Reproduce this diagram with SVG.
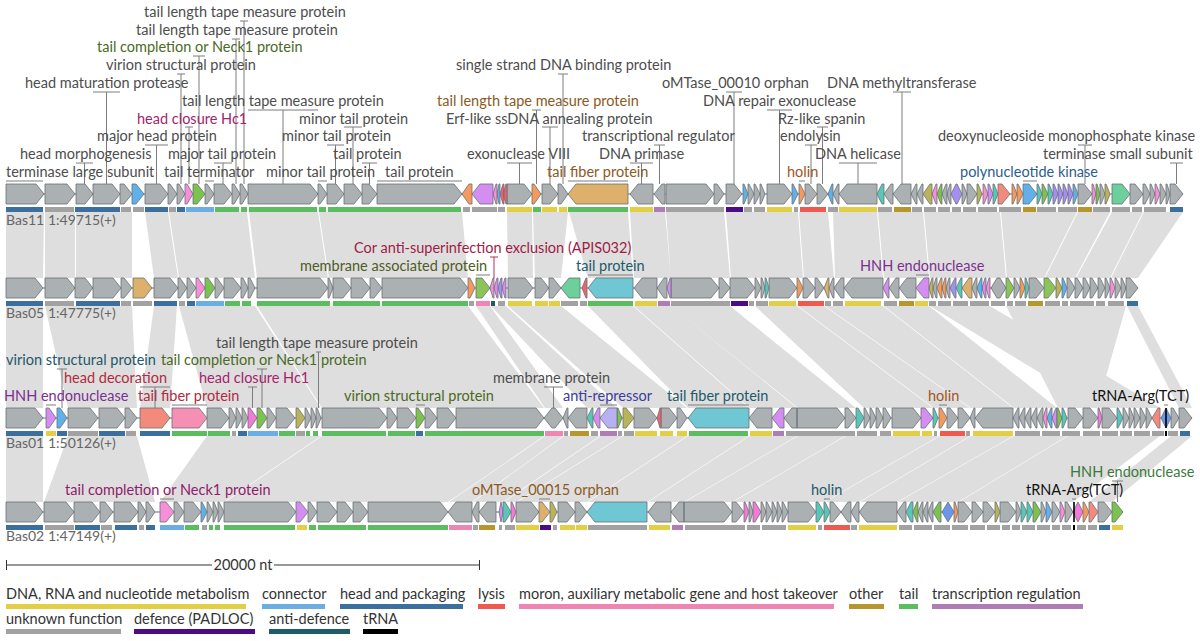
<svg xmlns="http://www.w3.org/2000/svg" width="1200" height="641" viewBox="0 0 1200 641">
<style>
text{font-family:Lato,"Liberation Sans",sans-serif;font-size:14.5px;fill:#4d4d4d}
.band{fill:#dedede;stroke:none}
.bb{stroke:#6b7073;stroke-width:1;fill:none}
.gn path{stroke:#6b7073;stroke-width:0.8;stroke-linejoin:miter}
.f-g{fill:#abb0b3}.f-bl{fill:#62b0ea}.f-pk{fill:#f58fd8}.f-gr{fill:#7cc24e}.f-or{fill:#f59a5c}.f-pu{fill:#d48ef2}.f-rd{fill:#f2606e}.f-tn{fill:#ddb06c}.f-tl{fill:#58c6b8}.f-ol{fill:#b9b45a}.f-vi{fill:#a68ef2}.f-sa{fill:#f48a7c}.f-cy{fill:#6ec7d2}.f-lg{fill:#8dc45a}.f-mg{fill:#f37ad6}.f-pp{fill:#f58fb3}.f-tq{fill:#6ccf9c}.f-db{fill:#6a96ee}.f-lv{fill:#b9b0f4}
.bars path{fill:none;stroke-width:5}
.c-dna{stroke:#e3cf45}.c-cn{stroke:#6aaee2}.c-hp{stroke:#3b6f9d}.c-ly{stroke:#ef5a50}.c-mo{stroke:#ee85b5}.c-ot{stroke:#b8962e}.c-tl{stroke:#5bbd60}.c-tr{stroke:#b07cb6}.c-un{stroke:#a2a2a2}.c-df{stroke:#4b0c86}.c-ad{stroke:#1d5c68}.c-rna{stroke:#000}
.ln{stroke:#7c7c7c;stroke-width:1;fill:none}
text.tn{fill:#666;font-size:14px}
.t-ol{fill:#4a6a1f}.t-mg{fill:#a3246b}.t-br{fill:#8b5a24}.t-ho{fill:#a3541e}.t-bu{fill:#2d5d8b}.t-cr{fill:#9e1c48}.t-om{fill:#4e5c1f}.t-tl{fill:#22596a}.t-pu{fill:#7d2f91}.t-rd{fill:#b12a3d}.t-in{fill:#3c3c9c}.t-pm{fill:#8e1c6b}.t-gn{fill:#3b7a3b}.t-bk{fill:#111}
.leg text{fill:#333}
.leg path{stroke-width:5;fill:none}
</style>

<g id="similarity-bands">
<path class="band" d="M6,212H44L43,278H6Z M45,212H75L75,278H45Z M76,212H132L132,278H76Z M145,212H168L178,278H154Z M169,212H247L255,278H179Z M249,212H318L328,278H257Z M319,212H462L468,278H329Z M507,212H532L533,278H508Z M533,212H568L561,278H535Z M569,212H628L633,278H588Z M630,212H665L671,278H634Z M666,212H724L730,278H671Z M726,212H798L803,278H731Z M799,212H828L834,278H804Z M833,212H877L883,278H835Z M878,212H923L929,278H884Z M924,212H1000L1006,278H930Z M1001,212H1077L1044,278H1007Z M1078,212H1110L1075,278H1045Z M1112,212H1143L1110,278H1076Z M1144,212H1183L1138,278H1111Z"/>
<path class="band" d="M6,306H43L43,408H6Z M45,306H132L137,408H68Z M154,306H177L170,408H140Z M179,306H255L321,408H207Z M257,306H468L544,408H322Z M476,306H490L563,408H545Z M491,306H506L617,408H587Z M508,306H561L687,408H623Z M588,306H633L749,408H688Z M634,306H671L797,408H750Z M671,306H730L856,408H798Z M755,306H797L933,408H864Z M798,306H824L970,408H934Z M825,306H883L1013,408H971Z M884,306H929L1057,408H1014Z M930,306H990L1160,408H1098Z M1006,306H1126L1097,408H1058Z M1127,306H1138L1192,408H1179Z"/>
<path class="band" d="M6,436H43L43,502H6Z M68,436H137L155,502H44Z M207,436H321L224,502H160Z M322,436H544L448,502H225Z M545,436H563L472,502H449Z M564,436H600L503,502H473Z M601,436H622L516,502H504Z M623,436H687L587,502H517Z M688,436H749L647,502H588Z M750,436H797L684,502H648Z M798,436H845L732,502H685Z M846,436H939L824,502H733Z M940,436H970L859,502H825Z M971,436H1013L897,502H860Z M1014,436H1067L958,502H898Z M1068,436H1160L1073,502H959Z M1171,436H1192L1112,502H1089Z"/>
</g>

<g id="Bas11" transform="translate(0,184)">
<path class="bb" d="M6,10H1183"/>
<g class="gn">
<path class="f-g" d="M6,0h30l8,10l-8,10h-30z M45,0h22l8,10l-8,10h-22z M76,0h9l8,10l-8,10h-9z M93,0h19l8,10l-8,10h-19z M120,0h4l8,10l-8,10h-4z M145,0h15l8,10l-8,10h-15z M168,0h2l7,10l-7,10h-2z M177,0h2l6,10l-6,10h-2z M205,0h2l7,10l-7,10h-2z M214,0h10l8,10l-8,10h-10z M232,0h2l6,10l-6,10h-2z M240,0h2l6,10l-6,10h-2z M248,0h62l8,10l-8,10h-62z M318,0h2l7,10l-7,10h-2z M327,0h9l8,10l-8,10h-9z M344,0h10l8,10l-8,10h-10z M362,0h7l8,10l-8,10h-7z M377,0h77l8,10l-8,10h-77z M507,0h17l8,10l-8,10h-17z M542,0h8l8,10l-8,10h-8z M558,0h3l7,10l-7,10h-3z M630,10l8,-10h15v20h-15z M654,10l8,-10h3v20h-3z M666,0h40l8,10l-8,10h-40z M714,0h3l7,10l-7,10h-3z M726,0h8l8,10l-8,10h-8z M748,0h1l5,10l-5,10h-1z M754,0h1l5,10l-5,10h-1z M760,0h1l4,10l-4,10h-1z M767,0h17l8,10l-8,10h-17z M805,0h4l8,10l-8,10h-4z M817,0h3l8,10l-8,10h-3z M833,10l5,-10h1v20h-1z M839,10l8,-10h30v20h-30z M884,10l7,-10h2v20h-2z M893,10l8,-10h10v20h-10z M911,10l5,-10h1v20h-1z M917,10l5,-10h1v20h-1z M942,10l4,-10h1v20h-1z M947,10l3,-10h1v20h-1z M962,0h1l4,10l-4,10h-1z M967,0h3l7,10l-7,10h-3z M1078,0h6l8,10l-8,10h-6z M1100,0h1l4,10l-4,10h-1z M1130,0h5l8,10l-8,10h-5z M1143,0h2l5,10l-5,10h-2z M1150,0h1l4,10l-4,10h-1z M1160,0h1l5,10l-5,10h-1z M1166,0h1l3,10l-3,10h-1z M1170,0h5l8,10l-8,10h-5z"/>
<path class="f-bl" d="M132,0h4l8,10l-8,10h-4z M743,0h1l4,10l-4,10h-1z M792,0h1l5,10l-5,10h-1z M828,10l4,-10h1v20h-1z M1023,0h6l8,10l-8,10h-6z M1073,0h1l4,10l-4,10h-1z M497,10l2,-10h1v20h-1z"/>
<path class="f-pk" d="M185,0h2l6,10l-6,10h-2z M493,10l3,-10h1v20h-1z M932,10l4,-10h1v20h-1z M983,0h1l4,10l-4,10h-1z M1092,0h1l3,10l-3,10h-1z M1155,0h1l4,10l-4,10h-1z"/>
<path class="f-gr" d="M193,0h4l8,10l-8,10h-4z M937,10l4,-10h1v20h-1z M1042,0h1l5,10l-5,10h-1z M1096,0h1l3,10l-3,10h-1z"/>
<path class="f-or" d="M462,10l7,-10h3v20h-3z M532,0h2l7,10l-7,10h-2z M799,0h1l5,10l-5,10h-1z M1012,0h1l4,10l-4,10h-1z M1017,0h1l5,10l-5,10h-1z"/>
<path class="f-pu" d="M472,10l8,-10h13v20h-13z M988,0h1l4,10l-4,10h-1z"/>
<path class="f-rd" d="M500,10l3,-10h1v20h-1z M503,10l3,-10h1v20h-1z"/>
<path class="f-tn" d="M568,10l8,-10h52v20h-52z"/>
<path class="f-tl" d="M877,10l5,-10h2v20h-2z M993,0h1l4,10l-4,10h-1z M1037,0h1l4,10l-4,10h-1z M1048,0h1l4,10l-4,10h-1z"/>
<path class="f-ol" d="M923,10l7,-10h2v20h-2z M977,0h1l4,10l-4,10h-1z M1105,0h1l4,10l-4,10h-1z"/>
<path class="f-vi" d="M951,10l5,-10h1l5,10l-5,10h-1z M1053,0h1l4,10l-4,10h-1z M1058,0h1l4,10l-4,10h-1z M1063,0h1l4,10l-4,10h-1z M1068,0h1l4,10l-4,10h-1z"/>
<path class="f-sa" d="M998,0h4l8,10l-8,10h-4z"/>
<path class="f-tq" d="M1112,0h10l8,10l-8,10h-10z"/>
</g>
<g class="bars" transform="translate(0,25.5)">
<path class="c-hp" d="M6,0H43M75,0H120M145,0H168M177,0H185M1170,0H1183"/>
<path class="c-un" d="M45,0H74M121,0H131M133,0H144M169,0H176M463,0H470M472,0H497M498,0H505M666,0H724M744,0H752M754,0H765M794,0H798M828,0H838M878,0H892M912,0H922M924,0H936M938,0H950M952,0H961M963,0H976M978,0H997M999,0H1021M1037,0H1056M1058,0H1077M1093,0H1110M1112,0H1130M1132,0H1142M1144,0H1166"/>
<path class="c-cn" d="M186,0H214"/>
<path class="c-tl" d="M215,0H239M241,0H247M249,0H317M319,0H326M328,0H461M533,0H541M568,0H628"/>
<path class="c-dna" d="M507,0H532M542,0H557M559,0H567M630,0H653M767,0H792M839,0H877"/>
<path class="c-tr" d="M654,0H665"/>
<path class="c-df" d="M726,0H743"/>
<path class="c-ly" d="M800,0H826"/>
<path class="c-ot" d="M894,0H911M1023,0H1036M1078,0H1092"/>
</g>
<text class="tn" x="6" y="41">Bas11</text><text class="tn" x="48" y="41">1:49715(+)</text>
</g>

<g id="Bas05" transform="translate(0,278)">
<path class="bb" d="M6,10H1138"/>
<g class="gn">
<path class="f-g" d="M6,0h29l8,10l-8,10h-29z M45,0h22l8,10l-8,10h-22z M75,0h10l8,10l-8,10h-10z M93,0h20l8,10l-8,10h-20z M121,0h3l8,10l-8,10h-3z M154,0h16l8,10l-8,10h-16z M178,0h2l7,10l-7,10h-2z M187,0h2l7,10l-7,10h-2z M215,0h2l7,10l-7,10h-2z M224,0h9l8,10l-8,10h-9z M241,0h2l5,10l-5,10h-2z M248,0h2l5,10l-5,10h-2z M257,0h63l8,10l-8,10h-63z M328,0h1l4,10l-4,10h-1z M333,0h10l8,10l-8,10h-10z M351,0h11l8,10l-8,10h-11z M370,0h4l8,10l-8,10h-4z M382,0h78l8,10l-8,10h-78z M508,0h17l8,10l-8,10h-17z M535,0h6l8,10l-8,10h-6z M549,0h4l8,10l-8,10h-4z M634,10l8,-10h15v20h-15z M657,10l7,-10h3v20h-3z M671,0h40l8,10l-8,10h-40z M719,0h3l8,10l-8,10h-3z M730,0h17l8,10l-8,10h-17z M755,0h1l5,10l-5,10h-1z M761,0h1l3,10l-3,10h-1z M769,0h20l8,10l-8,10h-20z M803,0h4l8,10l-8,10h-4z M815,0h2l7,10l-7,10h-2z M829,10l4,-10h1v20h-1z M834,10l7,-10h3v20h-3z M844,10l8,-10h31v20h-31z M889,10l7,-10h3v20h-3z M899,10l8,-10h9v20h-9z M933,10l3,-10h1v20h-1z M946,10l3,-10h1v20h-1z M972,10l4,-10h1v20h-1z M991,10l6,-10h3l6,10l-6,10h-3z M1014,0h1l5,10l-5,10h-1z M1029,0h7l8,10l-8,10h-7z M1067,0h2l6,10l-6,10h-2z M1075,0h2l6,10l-6,10h-2z M1083,0h2l5,10l-5,10h-2z M1090,0h2l6,10l-6,10h-2z M1098,0h2l5,10l-5,10h-2z M1105,0h1l4,10l-4,10h-1z M1115,0h1l5,10l-5,10h-1z M1121,0h1l4,10l-4,10h-1z M1126,0h4l8,10l-8,10h-4z"/>
<path class="f-tn" d="M133,0h11l8,10l-8,10h-11z M824,10l4,-10h1v20h-1z M962,10l7,-10h3v20h-3z"/>
<path class="f-pk" d="M196,0h2l7,10l-7,10h-2z M490,10l3,-10h1v20h-1z M986,10l3,-10h1v20h-1z M1110,0h1l4,10l-4,10h-1z"/>
<path class="f-gr" d="M205,0h3l7,10l-7,10h-3z"/>
<path class="f-or" d="M468,0h2l5,10l-5,10h-2z M797,0h1l5,10l-5,10h-1z M937,10l4,-10h1v20h-1z M942,10l3,-10h1v20h-1z M1020,0h1l4,10l-4,10h-1z"/>
<path class="f-lg" d="M476,0h6l8,10l-8,10h-6z M1006,0h2l6,10l-6,10h-2z M1044,0h4l8,10l-8,10h-4z"/>
<path class="f-pu" d="M494,10l3,-10h1v20h-1z M502,10l3,-10h1v20h-1z M667,10l3,-10h1v20h-1z M883,10l5,-10h1v20h-1z M916,10l8,-10h5v20h-5z M982,10l3,-10h1v20h-1z"/>
<path class="f-vi" d="M498,10l3,-10h1v20h-1z M950,10l5,-10h1v20h-1z"/>
<path class="f-tq" d="M561,10l8,-10h11v20h-11z"/>
<path class="f-rd" d="M582,10l4,-10h1v20h-1z"/>
<path class="f-cy" d="M588,10l8,-10h37v20h-37z"/>
<path class="f-tl" d="M765,0h1l3,10l-3,10h-1z M956,10l5,-10h1v20h-1z M1025,0h1l3,10l-3,10h-1z"/>
<path class="f-ol" d="M929,10l3,-10h1v20h-1z M1056,0h1l5,10l-5,10h-1z"/>
<path class="f-bl" d="M977,10l4,-10h1v20h-1z M1062,0h1l4,10l-4,10h-1z"/>
</g>
<g class="bars" transform="translate(0,25.5)">
<path class="c-hp" d="M6,0H43M76,0H120M154,0H177M187,0H195M1127,0H1138"/>
<path class="c-un" d="M45,0H74M121,0H131M133,0H152M179,0H185M469,0H474M498,0H505M561,0H578M580,0H587M671,0H730M749,0H754M756,0H768M825,0H831M833,0H843M884,0H897M929,0H936M938,0H951M953,0H968M970,0H989M991,0H1005M1007,0H1013M1015,0H1026M1045,0H1060M1062,0H1068M1070,0H1094M1096,0H1105M1108,0H1124"/>
<path class="c-cn" d="M196,0H224"/>
<path class="c-tl" d="M225,0H240M242,0H251M257,0H330M333,0H380M382,0H468M588,0H633"/>
<path class="c-mo" d="M476,0H490"/>
<path class="c-ad" d="M491,0H495"/>
<path class="c-dna" d="M508,0H532M535,0H548M549,0H560M635,0H657M769,0H796M845,0H881M915,0H928"/>
<path class="c-tr" d="M658,0H670"/>
<path class="c-df" d="M731,0H748"/>
<path class="c-ly" d="M798,0H824"/>
<path class="c-ot" d="M899,0H914M1028,0H1043"/>
</g>
<text class="tn" x="6" y="40">Bas05</text><text class="tn" x="48" y="40">1:47775(+)</text>
</g>

<g id="Bas01" transform="translate(0,408)">
<path class="bb" d="M6,10H1192"/>
<g class="gn">
<path class="f-g" d="M6,0h29l8,10l-8,10h-29z M68,0h22l8,10l-8,10h-22z M99,0h18l8,10l-8,10h-18z M125,0h4l8,10l-8,10h-4z M207,0h14l8,10l-8,10h-14z M229,0h2l5,10l-5,10h-2z M236,0h1l5,10l-5,10h-1z M242,0h1l5,10l-5,10h-1z M267,0h2l7,10l-7,10h-2z M276,0h11l8,10l-8,10h-11z M305,0h1l5,10l-5,10h-1z M311,0h1l4,10l-4,10h-1z M316,0h1l4,10l-4,10h-1z M322,0h57l8,10l-8,10h-57z M387,0h3l7,10l-7,10h-3z M397,0h11l8,10l-8,10h-11z M425,0h4l8,10l-8,10h-4z M437,0h11l8,10l-8,10h-11z M456,0h80l8,10l-8,10h-80z M544,10l8,-10h3l8,10l-8,10h-3z M563,10l4,-10h1v20h-1z M568,10l8,-10h11v20h-11z M634,0h15l8,10l-8,10h-15z M661,0h8l8,10l-8,10h-8z M677,0h3l7,10l-7,10h-3z M749,10l8,-10h15v20h-15z M784,10l8,-10h5v20h-5z M797,0h40l8,10l-8,10h-40z M845,0h3l8,10l-8,10h-3z M864,0h1l5,10l-5,10h-1z M870,0h1l5,10l-5,10h-1z M876,0h2l5,10l-5,10h-2z M883,0h2l6,10l-6,10h-2z M892,0h21l8,10l-8,10h-21z M947,0h3l8,10l-8,10h-3z M958,0h4l8,10l-8,10h-4z M970,10l4,-10h1v20h-1z M975,10l8,-10h30v20h-30z M1013,10l5,-10h1v20h-1z M1019,10l5,-10h1v20h-1z M1025,10l5,-10h1v20h-1z M1031,10l5,-10h1v20h-1z M1037,10l5,-10h1v20h-1z M1068,0h7l8,10l-8,10h-7z M1083,0h7l8,10l-8,10h-7z M1102,0h7l8,10l-8,10h-7z M1123,0h1l5,10l-5,10h-1z M1129,0h1l4,10l-4,10h-1z M1134,0h1l5,10l-5,10h-1z M1140,0h1l5,10l-5,10h-1z M1146,0h1l5,10l-5,10h-1z M1171,0h2l6,10l-6,10h-2z M1179,0h5l8,10l-8,10h-5z"/>
<path class="f-pu" d="M46,0h3l7,10l-7,10h-3z M593,10l5,-10h2v20h-2z M772,10l8,-10h4v20h-4z M921,0h4l8,10l-8,10h-4z M1052,10l4,-10h1v20h-1z"/>
<path class="f-bl" d="M57,0h3l7,10l-7,10h-3z M1047,10l4,-10h1v20h-1z"/>
<path class="f-sa" d="M140,0h22l8,10l-8,10h-22z M1152,10l6,-10h2v20h-2z"/>
<path class="f-pp" d="M172,0h27l8,10l-8,10h-27z"/>
<path class="f-mg" d="M248,0h2l7,10l-7,10h-2z M1098,0h1l3,10l-3,10h-1z"/>
<path class="f-gr" d="M257,0h3l7,10l-7,10h-3z M416,0h2l7,10l-7,10h-2z M617,0h1l4,10l-4,10h-1z M1057,0h1l4,10l-4,10h-1z"/>
<path class="f-ol" d="M296,0h2l7,10l-7,10h-2z M623,0h3l8,10l-8,10h-3z"/>
<path class="f-tl" d="M587,10l5,-10h1v20h-1z M856,0h2l6,10l-6,10h-2z M933,0h1l4,10l-4,10h-1z M1062,0h1l4,10l-4,10h-1z M1117,0h1l5,10l-5,10h-1z"/>
<path class="f-lv" d="M600,10l8,-10h9v20h-9z"/>
<path class="f-rd" d="M657,10l3,-10h1v20h-1z"/>
<path class="f-cy" d="M688,10l8,-10h53v20h-53z"/>
<path class="f-or" d="M939,0h2l6,10l-6,10h-2z"/>
<path class="f-pk" d="M1043,10l3,-10h1v20h-1z"/>
<path class="f-db" d="M1161,10l5,-10l5,10l-5,10z"/>
</g>
<rect x="1165.2" y="0" width="1.6" height="20" fill="#000"/>
<g class="bars" transform="translate(0,25.5)">
<path class="c-hp" d="M6,0H43M57,0H67M99,0H125M140,0H170M238,0H247M416,0H423M1180,0H1190"/>
<path class="c-dna" d="M46,0H56M635,0H657M660,0H673M677,0H687M750,0H772M893,0H920M922,0H932M973,0H1013"/>
<path class="c-un" d="M68,0H98M126,0H136M232,0H236M296,0H305M564,0H568M591,0H598M618,0H622M624,0H634M786,0H855M857,0H877M880,0H891M934,0H937M966,0H970M1015,0H1040M1042,0H1060M1062,0H1080M1083,0H1100M1102,0H1118M1120,0H1132M1134,0H1150M1152,0H1164M1168,0H1178"/>
<path class="c-tl" d="M172,0H207M208,0H230M279,0H295M306,0H310M313,0H318M322,0H386M388,0H415M425,0H544M689,0H748"/>
<path class="c-cn" d="M248,0H278"/>
<path class="c-mo" d="M545,0H563"/>
<path class="c-ot" d="M570,0H589"/>
<path class="c-tr" d="M600,0H617M773,0H784"/>
<path class="c-ly" d="M940,0H965"/>
<path class="c-rna" d="M1165,0H1167"/>
</g>
<text class="tn" x="6" y="40">Bas01</text><text class="tn" x="48" y="40">1:50126(+)</text>
</g>

<g id="Bas02" transform="translate(0,502)">
<path class="bb" d="M6,10H1123"/>
<g class="gn">
<path class="f-g" d="M6,0h29l8,10l-8,10h-29z M44,0h22l8,10l-8,10h-22z M74,0h18l8,10l-8,10h-18z M100,0h5l8,10l-8,10h-5z M114,0h16l8,10l-8,10h-16z M138,0h2l6,10l-6,10h-2z M146,0h2l7,10l-7,10h-2z M174,0h3l7,10l-7,10h-3z M184,0h9l8,10l-8,10h-9z M207,0h1l5,10l-5,10h-1z M213,0h1l4,10l-4,10h-1z M218,0h1l5,10l-5,10h-1z M224,0h64l8,10l-8,10h-64z M308,0h2l7,10l-7,10h-2z M317,0h12l8,10l-8,10h-12z M337,0h8l8,10l-8,10h-8z M353,0h7l8,10l-8,10h-7z M368,0h72l8,10l-8,10h-72z M448,10l8,-10h16v20h-16z M472,10l5,-10h2v20h-2z M479,10l8,-10h9v20h-9z M516,0h15l8,10l-8,10h-15z M558,0h9l8,10l-8,10h-9z M575,0h4l8,10l-8,10h-4z M648,10l8,-10h15v20h-15z M671,10l8,-10h5v20h-5z M684,0h40l8,10l-8,10h-40z M732,0h4l8,10l-8,10h-4z M749,0h1l3,10l-3,10h-1z M761,0h1l4,10l-4,10h-1z M766,0h1l5,10l-5,10h-1z M772,0h1l4,10l-4,10h-1z M777,0h1l4,10l-4,10h-1z M782,0h1l5,10l-5,10h-1z M788,0h20l8,10l-8,10h-20z M830,0h3l8,10l-8,10h-3z M841,10l7,-10h3v20h-3z M851,10l6,-10h2v20h-2z M859,10l8,-10h30v20h-30z M897,10l7,-10h2v20h-2z M918,10l4,-10h1v20h-1z M923,10l4,-10h1v20h-1z M928,10l4,-10h1v20h-1z M958,0h6l8,10l-8,10h-6z M972,0h3l8,10l-8,10h-3z M983,0h4l8,10l-8,10h-4z M1000,0h8l8,10l-8,10h-8z M1016,0h1l4,10l-4,10h-1z M1041,0h1l4,10l-4,10h-1z M1052,0h2l6,10l-6,10h-2z M1065,0h2l6,10l-6,10h-2z M1098,0h6l8,10l-8,10h-6z"/>
<path class="f-pk" d="M160,0h6l8,10l-8,10h-6z M1060,0h1l4,10l-4,10h-1z"/>
<path class="f-bl" d="M201,0h1l5,10l-5,10h-1z M1046,0h1l5,10l-5,10h-1z"/>
<path class="f-pu" d="M296,0h4l8,10l-8,10h-4z M499,10l2,-10l2,10l-2,10z"/>
<path class="f-tl" d="M503,0h2l6,10l-6,10h-2z M816,0h2l6,10l-6,10h-2z M824,0h1l5,10l-5,10h-1z M906,10l5,-10h2v20h-2z M1021,0h1l5,10l-5,10h-1z M1027,0h1l5,10l-5,10h-1z"/>
<path class="f-mg" d="M511,0h1l4,10l-4,10h-1z M744,0h1l4,10l-4,10h-1z M753,0h2l6,10l-6,10h-2z M1073,10l5,-10l5,10l-5,10z"/>
<path class="f-tn" d="M539,0h3l8,10l-8,10h-3z"/>
<path class="f-ol" d="M550,0h2l5,10l-5,10h-2z M995,0h1l4,10l-4,10h-1z"/>
<path class="f-cy" d="M587,10l8,-10h52v20h-52z"/>
<path class="f-gr" d="M913,10l4,-10h1v20h-1z M933,10l6,-10h2v20h-2z M1033,0h2l6,10l-6,10h-2z M1112,0h3l8,10l-8,10h-3z"/>
<path class="f-db" d="M942,10l6,-10l6,10l-6,10z"/>
<path class="f-or" d="M954,0h1l3,10l-3,10h-1z M1083,0h1l5,10l-5,10h-1z"/>
<path class="f-sa" d="M1089,0h2l7,10l-7,10h-2z"/>
</g>
<rect x="1073.2" y="0" width="1.6" height="20" fill="#000"/>
<g class="bars" transform="translate(0,25.5)">
<path class="c-hp" d="M6,0H43M75,0H100M115,0H137M146,0H155M1099,0H1110"/>
<path class="c-un" d="M45,0H74M101,0H112M139,0H144M202,0H207M473,0H478M499,0H502M505,0H515M553,0H557M588,0H647M685,0H745M747,0H760M762,0H786M818,0H822M851,0H857M899,0H912M914,0H932M934,0H950M952,0H968M970,0H985M987,0H1000M1002,0H1010M1012,0H1020M1022,0H1035M1037,0H1050M1052,0H1060M1062,0H1071M1077,0H1086M1088,0H1097"/>
<path class="c-cn" d="M160,0H184"/>
<path class="c-tl" d="M185,0H199M209,0H213M215,0H220M224,0H295M309,0H316M318,0H366M368,0H448"/>
<path class="c-dna" d="M297,0H307M516,0H539M560,0H575M576,0H587M649,0H670M788,0H816M859,0H897M1112,0H1123"/>
<path class="c-mo" d="M449,0H472"/>
<path class="c-ot" d="M479,0H495"/>
<path class="c-df" d="M540,0H551"/>
<path class="c-tr" d="M672,0H683"/>
<path class="c-ly" d="M824,0H850"/>
<path class="c-rna" d="M1073,0H1075"/>
</g>
<text class="tn" x="6" y="39">Bas02</text><text class="tn" x="48" y="39">1:47149(+)</text>
</g>

<g id="labels-Bas11">
<path class="ln" d="M6,181H43M205,181H214M318,181H327M377,181H462M568,181H628M799,181H805M1023,181H1037M76,163H93M84.5,163V184M214,163H232M223,163V184M362,163H377M369.5,163V184M507,163H532M519.5,163V184M630,163H653M641.5,163V184M839,163H877M858,163V184M1170,163H1183M1176.5,163V184M145,145H168M156.5,145V184M327,145H344M335.5,145V184M654,145H665M659.5,145V184M805,145H817M811,145V184M1078,145H1092M1085,145V184M185,127H193M189,127V184M344,127H362M353,127V184M542,127H558M550,127V184M817,127H828M822.5,127V184M248,110H318M283,110V184M532,110H541M536.5,110V184M767,110H792M779.5,110V184M93,92H120M106.5,92V184M726,92H742M734,92V184M893,92H911M902,92V184M177,74H185M181,74V184M558,74H568M563,74V184M193,56H205M199,56V184M232,39H240M236,39V184M240,21H248M244,21V184"/>
<text x="6" y="177">terminase large subunit</text>
<text x="164" y="177">tail terminator</text>
<text x="266" y="177">minor tail protein</text>
<text x="385" y="177">tail protein</text>
<text class="t-br" x="547" y="177">tail fiber protein</text>
<text class="t-ho" x="787" y="177">holin</text>
<text class="t-bu" x="960" y="177">polynucleotide kinase</text>
<text x="20" y="159.2">head morphogenesis</text>
<text x="168" y="159.2">major tail protein</text>
<text x="333" y="159.2">tail protein</text>
<text x="467" y="159.2">exonuclease VIII</text>
<text x="599" y="159.2">DNA primase</text>
<text x="815" y="159.2">DNA helicase</text>
<text x="1043" y="159.2">terminase small subunit</text>
<text x="97" y="141.4">major head protein</text>
<text x="282" y="141.4">minor tail protein</text>
<text x="582" y="141.4">transcriptional regulator</text>
<text x="780" y="141.4">endolysin</text>
<text x="938" y="141.4">deoxynucleoside monophosphate kinase</text>
<text class="t-mg" x="137" y="123.6">head closure Hc1</text>
<text x="299" y="123.6">minor tail protein</text>
<text x="446" y="123.6">Erf-like ssDNA annealing protein</text>
<text x="778" y="123.6">Rz-like spanin</text>
<text x="182" y="105.8">tail length tape measure protein</text>
<text class="t-br" x="437" y="105.8">tail length tape measure protein</text>
<text x="703" y="105.8">DNA repair exonuclease</text>
<text x="25" y="88">head maturation protease</text>
<text x="662" y="88">oMTase_00010 orphan</text>
<text x="827" y="88">DNA methyltransferase</text>
<text x="106" y="70.2">virion structural protein</text>
<text x="456" y="70.2">single strand DNA binding protein</text>
<text class="t-ol" x="97" y="52.4">tail completion or Neck1 protein</text>
<text x="136" y="34.6">tail length tape measure protein</text>
<text x="144" y="16.8">tail length tape measure protein</text>
</g>

<g id="labels-Bas05">
<path class="ln" d="M476,275H490M588,275H633M916,275H929"/>
<path d="M490,257H498M494,257V278" stroke="#b03060" stroke-width="1" fill="none"/>
<text class="t-cr" x="354" y="253.2">Cor anti-superinfection exclusion (APIS032)</text>
<text class="t-om" x="300" y="271">membrane associated protein</text>
<text class="t-tl" x="576" y="271">tail protein</text>
<text class="t-pu" x="860" y="271">HNH endonuclease</text>
</g>

<g id="labels-Bas01">
<path class="ln" d="M46,405H56M172,405H207M416,405H425M600,405H617M688,405H749M939,405H947M1164,405H1168M140,387H170M155,387V408M248,387H257M252.5,387V408M544,387H563M553.5,387V408M57,369H67M62,369V408M257,369H267M262,369V408M316,352H321M318.5,352V408"/>
<text class="t-pu" x="4" y="401">HNH endonuclease</text>
<text class="t-rd" x="138" y="401">tail fiber protein</text>
<text class="t-ol" x="344" y="401">virion structural protein</text>
<text class="t-in" x="563" y="401">anti-repressor</text>
<text class="t-tl" x="667" y="401">tail fiber protein</text>
<text class="t-ho" x="928" y="401">holin</text>
<text class="t-bk" x="1092" y="401">tRNA-Arg(TCT)</text>
<text class="t-rd" x="64" y="383.2">head decoration</text>
<text class="t-mg" x="199" y="383.2">head closure Hc1</text>
<text x="493" y="383.2">membrane protein</text>
<text class="t-tl" x="6" y="365.4">virion structural protein</text>
<text class="t-ol" x="161" y="365.4">tail completion or Neck1 protein</text>
<text x="216" y="347.6">tail length tape measure protein</text>
</g>

<g id="labels-Bas02">
<path class="ln" d="M160,499H174M539,499H550M824,499H830M1072,499H1076M1112,481H1123M1117.5,481V502"/>
<text class="t-pm" x="65" y="495">tail completion or Neck1 protein</text>
<text class="t-br" x="472" y="495">oMTase_00015 orphan</text>
<text class="t-tl" x="811" y="495">holin</text>
<text class="t-bk" x="1026" y="495">tRNA-Arg(TCT)</text>
<text class="t-gn" x="1070" y="477.2">HNH endonuclease</text>
</g>

<g id="scale-bar">
<path d="M6,565H212M274,565H480M6.5,560V570M479.5,560V570" stroke="#333" stroke-width="1" fill="none"/>
<text x="243" y="570" text-anchor="middle" style="fill:#333">20000 nt</text>
</g>

<g id="legend" class="leg">
<text x="6" y="599">DNA, RNA and nucleotide metabolism</text><path class="c-dna" d="M6,606.5H246"/>
<text x="262" y="599">connector</text><path class="c-cn" d="M262,606.5H325"/>
<text x="340" y="599">head and packaging</text><path class="c-hp" d="M340,606.5H463"/>
<text x="478" y="599">lysis</text><path class="c-ly" d="M478,606.5H505"/>
<text x="519" y="599">moron, auxiliary metabolic gene and host takeover</text><path class="c-mo" d="M519,606.5H834"/>
<text x="849" y="599">other</text><path class="c-ot" d="M849,606.5H884"/>
<text x="899" y="599">tail</text><path class="c-tl" d="M899,606.5H918"/>
<text x="932" y="599">transcription regulation</text><path class="c-tr" d="M932,606.5H1083"/>
<text x="6" y="624">unknown function</text><path class="c-un" d="M6,631.5H121"/>
<text x="134" y="624">defence (PADLOC)</text><path class="c-df" d="M134,631.5H255"/>
<text x="269" y="624">anti-defence</text><path class="c-ad" d="M269,631.5H350"/>
<text x="363" y="624">tRNA</text><path class="c-rna" d="M363,631.5H398"/>
</g>
</svg>
